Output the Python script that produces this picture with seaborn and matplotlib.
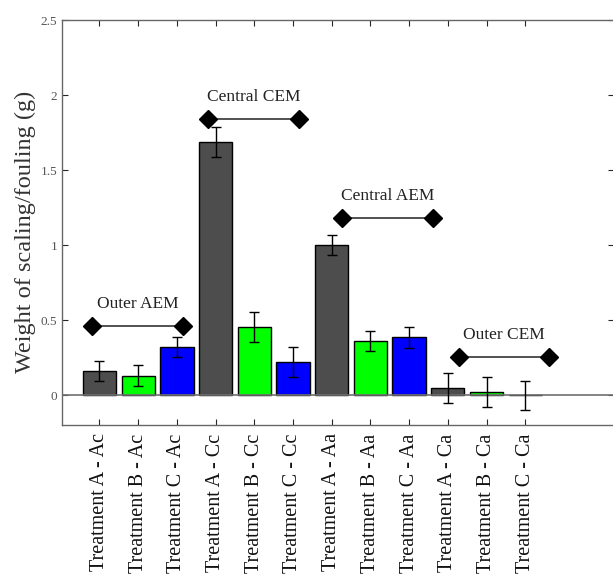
import matplotlib
matplotlib.use("Agg")
import matplotlib.pyplot as plt
import numpy as np
import pandas as pd
import seaborn as sns

# bar labels, heights and error bar half-widths
labels = ["Treatment A - Ac", "Treatment B - Ac", "Treatment C - Ac",
          "Treatment A - Cc", "Treatment B - Cc", "Treatment C - Cc",
          "Treatment A - Aa", "Treatment B - Aa", "Treatment C - Aa",
          "Treatment A - Ca", "Treatment B - Ca", "Treatment C - Ca"]
weights = [0.16, 0.13, 0.32, 1.69, 0.455, 0.22, 1.0, 0.36, 0.385, 0.05, 0.022, 0.0]
errors = [0.065, 0.07, 0.065, 0.10, 0.10, 0.10, 0.065, 0.065, 0.07, 0.10, 0.10, 0.097]
bar_colors = ["#4d4d4d", "#00ff00", "#0000ff"] * 4

# group brackets: name, first/last x (category units), height
groups = ["Outer AEM", "Central CEM", "Central AEM", "Outer CEM"]
group_start = [-0.18, 2.80, 6.27, 9.28]
group_end = [2.17, 5.16, 8.62, 11.62]
group_y = [0.462, 1.844, 1.18, 0.256]

df = pd.DataFrame({"label": labels, "weight": weights})

sns.set_style("white")
plt.rcParams["font.family"] = ["Liberation Serif", "DejaVu Serif"]

fig = plt.figure(figsize=(6.13, 5.76), dpi=100)
ax = fig.add_axes([0.101, 0.262, 0.901, 0.703])

sns.barplot(data=df, x="label", y="weight", hue="label",
            palette=bar_colors, legend=False, width=0.86,
            edgecolor="black", linewidth=1.0, saturation=1, ax=ax)
# zero-height bar would show a black edge; the grey zero line sits over it
ax.axhline(0, color="#707070", lw=1.2, zorder=1.5)
ax.errorbar(np.arange(len(labels)), weights, yerr=errors, fmt="none",
            ecolor="black", elinewidth=1.0, capsize=3.5, capthick=1.0,
            zorder=3)

for name, x0, x1, y in zip(groups, group_start, group_end, group_y):
    ax.plot([x0, x1], [y, y], color="#333333", lw=1.2, marker="D",
            markersize=9, markerfacecolor="black", markeredgecolor="black")
    ax.text((x0 + x1) / 2, y + 0.145, name, ha="center", va="center",
            fontsize=12.5, color="#222222")

ax.set_xlim(-0.97, 13.3)
ax.set_ylim(-0.2, 2.5)
ax.set_yticks([0, 0.5, 1, 1.5, 2, 2.5])
ax.set_yticklabels(["0", "0.5", "1", "1.5", "2", "2.5"])
ax.set_xticks(np.arange(len(labels)))
ax.set_xticklabels(labels, rotation=90, fontsize=14.5, color="#111111")
ax.set_xlabel("")
ax.set_ylabel("Weight of scaling/fouling (g)", fontsize=17.5, color="#333333")
ax.yaxis.set_label_coords(-0.047, 0.476)

ax.tick_params(axis="y", labelsize=9.5, labelcolor="#555555",
               direction="in", length=4, left=True, right=True)
ax.tick_params(axis="x", direction="in", length=4, bottom=True, top=True,
               pad=6)
for side in ["left", "bottom", "top", "right"]:
    ax.spines[side].set_color("#666666")
    ax.spines[side].set_linewidth(1.0)

fig.savefig("out.png", dpi=100)
